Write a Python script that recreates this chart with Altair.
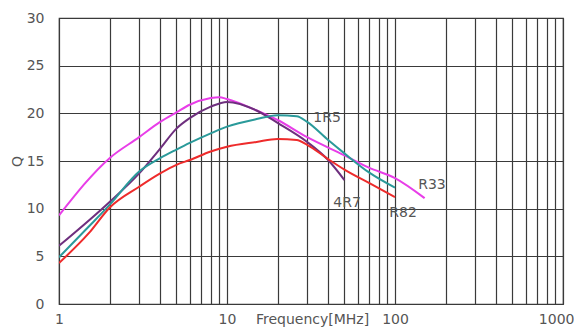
import altair as alt
import pandas as pd

# Data
r33_f = [1, 2, 3, 4, 5, 6, 8, 9, 10, 15, 20, 30, 50, 70, 100, 150]
r33_q = [9.3, 15.3, 17.5, 19.1, 20.1, 20.9, 21.6, 21.7, 21.5, 20.3, 19.3, 17.5, 15.6, 14.3, 13.2, 11.1]

r47_f = [1, 2, 3, 4, 5, 6, 8, 10, 15, 20, 30, 40, 50]
r47_q = [6.1, 10.7, 13.7, 16.3, 18.4, 19.5, 20.7, 21.2, 20.3, 19.0, 17.0, 15.1, 13.0]

r15_f = [1, 1.5, 2, 3, 4, 5, 6, 8, 10, 15, 20, 26, 30, 40, 50, 70, 100]
r15_q = [4.9, 8.1, 10.4, 13.9, 15.3, 16.2, 16.9, 17.9, 18.6, 19.4, 19.8, 19.7, 19.1, 17.2, 15.8, 13.8, 12.2]

r82_f = [1, 1.5, 2, 3, 4, 5, 6, 8, 10, 15, 20, 26, 30, 40, 50, 70, 100]
r82_q = [4.3, 7.4, 10.1, 12.3, 13.7, 14.6, 15.1, 16.0, 16.5, 17.0, 17.3, 17.2, 16.7, 15.2, 14.1, 12.7, 11.2]

series_names = ["R33", "4R7", "1R5", "R82"]
series_colors = ["#e83ee8", "#6e2f7e", "#2a9a9a", "#ee2b2b"]

label_text = ["1R5", "4R7", "R82", "R33"]
label_f = [39.4, 51.8, 111.6, 166]
label_q = [19.5, 10.6, 9.5, 12.5]

x_grid = [1, 2, 3, 4, 5, 6, 7, 8, 9,
          10, 20, 30, 40, 50, 60, 70, 80, 90,
          100, 200, 300, 400, 500, 600, 700, 800, 900, 1000]
y_ticks = [0, 5, 10, 15, 20, 25, 30]

rows = []
for name, fs, qs in [("R33", r33_f, r33_q), ("4R7", r47_f, r47_q),
                     ("1R5", r15_f, r15_q), ("R82", r82_f, r82_q)]:
    for i, (f, q) in enumerate(zip(fs, qs)):
        rows.append({"series": name, "f": f, "q": q, "i": i})
df = pd.DataFrame(rows)
lab = pd.DataFrame({"t": label_text, "f": label_f, "q": label_q})

FONT = "DejaVu Sans"
TXT = "#555555"
GRID = "#3a3a3a"

xs = alt.Scale(type="log", domain=[1, 1000], nice=False)
ys = alt.Scale(domain=[0, 30], nice=False, zero=False)

lines = alt.Chart(df).mark_line(strokeWidth=2, interpolate="monotone", clip=True).encode(
    x=alt.X("f:Q", scale=xs, axis=alt.Axis(
        values=x_grid, format="d",
        labelExpr="(datum.value == 1 || datum.value == 10 || datum.value == 100 || datum.value == 1000) ? datum.label : ''",
        grid=True, gridColor=GRID, gridOpacity=1, gridWidth=1.2,
        ticks=False, domain=False, labelFlush=False, labelOverlap=False,
        labelAlign={"condition": {"test": "datum.value == 1000", "value": "right"}, "value": "center"},
        labelOffset={"condition": {"test": "datum.value == 1000", "value": 11}, "value": 0},
        labelBaseline="middle",
        labelPadding=15, labelFont=FONT, labelFontSize=14, labelColor=TXT,
        title="Frequency[MHz]", titleFont=FONT, titleFontSize=14, titleColor=TXT,
        titleFontWeight="normal", titleX=253, titleY=15, titleAlign="center",
        titleBaseline="middle", titleAnchor="start")),
    y=alt.Y("q:Q", scale=ys, axis=alt.Axis(
        values=y_ticks, grid=True, gridColor=GRID, gridOpacity=1, gridWidth=1.2,
        ticks=False, domain=False, labelFlush=False, labelOverlap=False,
        labelPadding=15, labelFont=FONT, labelFontSize=14, labelColor=TXT,
        title="Q", titleFont=FONT, titleFontSize=14, titleColor=TXT,
        titleFontWeight="normal", titleX=-42, titleY=143, titleAlign="center",
        titleBaseline="middle", titleAnchor="start")),
    color=alt.Color("series:N", scale=alt.Scale(domain=series_names, range=series_colors), legend=None),
    detail="series:N",
    order="i:Q",
)

texts = alt.Chart(lab).mark_text(font=FONT, fontSize=14, color=TXT, align="center", baseline="middle").encode(
    x=alt.X("f:Q", scale=xs),
    y=alt.Y("q:Q", scale=ys),
    text="t:N",
)

chart = alt.layer(lines, texts).properties(
    width=504, height=286,
    autosize=alt.AutoSizeParams(type="none"),
    padding={"left": 51, "top": 10, "right": 11, "bottom": 24},
    background="white",
).configure_view(stroke=GRID, strokeWidth=1.2)

chart.save("out.html", embed_options={"renderer": "svg", "actions": False})
